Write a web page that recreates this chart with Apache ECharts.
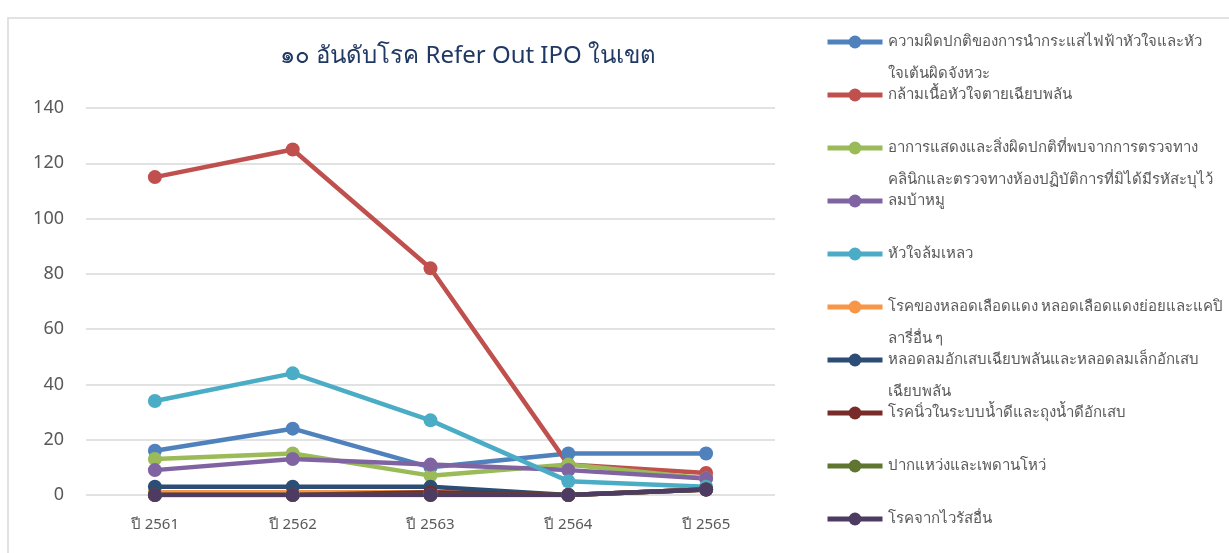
<!DOCTYPE html>
<html>
<head>
<meta charset="utf-8">
<script src="https://cdn.jsdelivr.net/npm/echarts@6/dist/echarts.min.js"></script>
<style>
  html, body { margin: 0; padding: 0; background: #fff; }
  #chart { width: 1229px; height: 553px; }
</style>
</head>
<body>
<div id="chart"></div>
<script>
var years = ['ปี 2561', 'ปี 2562', 'ปี 2563', 'ปี 2564', 'ปี 2565'];

// legend text as shown, split where the label wraps
var legendLines = [
  ['ความผิดปกติของการนำกระแสไฟฟ้าหัวใจและหัว', 'ใจเต้นผิดจังหวะ'],
  ['กล้ามเนื้อหัวใจตายเฉียบพลัน', ''],
  ['อาการแสดงและสิ่งผิดปกติที่พบจากการตรวจทาง', 'คลินิกและตรวจทางห้องปฏิบัติการที่มิได้มีรหัสะบุไว้'],
  ['ลมบ้าหมู', ''],
  ['หัวใจล้มเหลว', ''],
  ['โรคของหลอดเลือดแดง หลอดเลือดแดงย่อยและแคปิ', 'ลารี่อื่น ๆ'],
  ['หลอดลมอักเสบเฉียบพลันและหลอดลมเล็กอักเสบ', 'เฉียบพลัน'],
  ['โรคนิ่วในระบบน้ำดีและถุงน้ำดีอักเสบ', ''],
  ['ปากแหว่งและเพดานโหว่', ''],
  ['โรคจากไวรัสอื่น', '']
];

var arrhythmia = [16, 24, 10, 15, 15];
var myocardialInfarction = [115, 125, 82, 11, 8];
var abnormalFindings = [13, 15, 7, 11, 6];
var epilepsy = [9, 13, 11, 9, 6];
var heartFailure = [34, 44, 27, 5, 3];
var arterialDisease = [1, 1, 1, 0, 2];
var bronchitis = [3, 3, 3, 0, 2];
var gallstones = [0, 0, 1, 0, 2];
var cleftLip = [0, 0, 0, 0, 2];
var viralDisease = [0, 0, 0, 0, 2];

var seriesValues = [arrhythmia, myocardialInfarction, abnormalFindings, epilepsy, heartFailure,
  arterialDisease, bronchitis, gallstones, cleftLip, viralDisease];
var colors = ['#4F81BD', '#C0504D', '#9BBB59', '#8064A2', '#4BACC6',
  '#F79646', '#2C4D75', '#772C2A', '#5F7530', '#4D3B62'];

var names = legendLines.map(function (l) { return l[0] + l[1]; });
var lineLookup = {};
legendLines.forEach(function (l, i) { lineLookup[names[i]] = l; });

var series = seriesValues.map(function (vals, i) {
  return {
    name: names[i],
    type: 'line',
    data: vals,
    symbol: 'circle',
    symbolSize: 14,
    lineStyle: { width: 4.5, color: colors[i] },
    itemStyle: { color: colors[i] }
  };
});

var chart = echarts.init(document.getElementById('chart'));
chart.setOption({
  animation: false,
  color: colors,
  graphic: [{
    type: 'rect',
    shape: { x: 8, y: 18, width: 1260, height: 600 },
    style: { fill: 'none', stroke: '#d9d9d9', lineWidth: 1.5 },
    silent: true
  }],
  title: {
    text: '๑๐ อันดับโรค Refer Out IPO ในเขต',
    left: 275,
    top: 39,
    textStyle: { color: '#203864', fontSize: 24, fontWeight: 'normal', fontFamily: 'Noto Sans' }
  },
  legend: {
    orient: 'vertical',
    left: 820,
    top: -11,
    height: 700,
    itemWidth: 55,
    itemHeight: 16,
    itemGap: -43,
    data: names,
    lineStyle: { width: 5 },
    formatter: function (name) {
      var l = lineLookup[name];
      return ' \n' + l[0] + '\n' + (l[1] || ' ');
    },
    textStyle: { color: '#595959', fontSize: 15, lineHeight: 32, fontFamily: 'Noto Sans' }
  },
  grid: { left: 86, right: 454, top: 108, bottom: 58 },
  xAxis: {
    type: 'category',
    data: years,
    axisLine: { show: false },
    axisTick: { show: false },
    axisLabel: { color: '#595959', fontSize: 15, margin: 22, fontFamily: 'Noto Sans' }
  },
  yAxis: {
    type: 'value',
    min: 0,
    max: 140,
    interval: 20,
    axisLine: { show: false },
    axisTick: { show: false },
    axisLabel: { color: '#595959', fontSize: 18, margin: 22, fontFamily: 'Noto Sans' },
    splitLine: { lineStyle: { color: '#d9d9d9', width: 1.5 } }
  },
  series: series
});
</script>
</body>
</html>
